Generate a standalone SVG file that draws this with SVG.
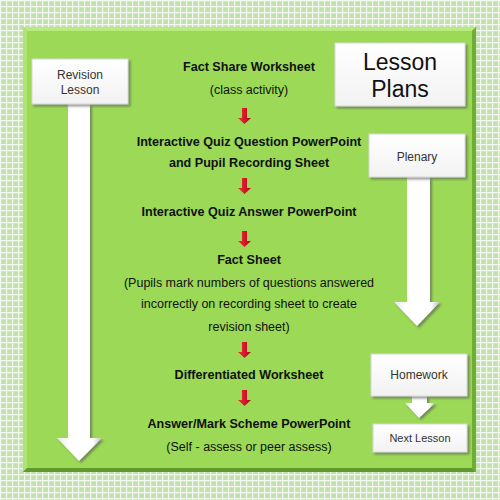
<svg xmlns="http://www.w3.org/2000/svg" width="500" height="500" viewBox="0 0 500 500">
<defs>
<pattern id="grid" width="6" height="6" patternUnits="userSpaceOnUse">
<rect width="6" height="6" fill="#c4e0b0"/>
<path d="M0 0.5H6M0.5 0V6" stroke="#f4faef" stroke-width="1.3" fill="none"/>
</pattern>
<linearGradient id="boxg" x1="0" y1="0" x2="0" y2="1">
<stop offset="0" stop-color="#ffffff"/>
<stop offset="1" stop-color="#f2f2f2"/>
</linearGradient>
<linearGradient id="shaft" x1="0" y1="0" x2="1" y2="0">
<stop offset="0" stop-color="#e6e6e6"/>
<stop offset="0.25" stop-color="#ffffff"/>
<stop offset="0.8" stop-color="#ffffff"/>
<stop offset="1" stop-color="#bdbdbd"/>
</linearGradient>
<linearGradient id="red" x1="0" y1="0" x2="1" y2="0">
<stop offset="0" stop-color="#f2303c"/>
<stop offset="1" stop-color="#b80018"/>
</linearGradient>
<filter id="sh" x="-10%" y="-10%" width="130%" height="130%">
<feDropShadow dx="2" dy="2" stdDeviation="1" flood-color="#555" flood-opacity="0.6"/>
</filter>
</defs>
<style>
.t{font-family:"Liberation Sans",Arial,sans-serif;fill:#111;text-anchor:middle}
.b{font-weight:bold;font-size:12.6px}
.r{font-size:12.5px}
.lbl{font-family:"Liberation Sans",Arial,sans-serif;fill:#333;text-anchor:middle;font-size:12px}
.box{fill:url(#boxg);stroke:#d8d8d8;stroke-width:1;filter:url(#sh)}
.warrow{fill:url(#shaft);filter:url(#sh)}
.rarrow{fill:url(#red)}
</style>
<rect width="500" height="500" fill="url(#grid)"/>
<g id="panel">
<rect x="23" y="27" width="453" height="445" fill="#9bd956"/>
<polygon points="23,27 476,27 472,31 27,31" fill="#b8ea80"/>
<polygon points="23,27 27,31 27,468 23,472" fill="#b0e472"/>
<polygon points="476,27 476,472 472,468 472,31" fill="#6fae35"/>
<polygon points="23,472 476,472 472,468 27,468" fill="#5e9a2c"/>
</g>
<g id="connectors">
<polygon class="warrow" points="68,104 90,104 90,438 102,438 79,461 57,438 68,438"/>
<polygon class="warrow" points="407,177 430,177 430,302 440,302 417,326 394,302 407,302"/>
<polygon class="warrow" points="412,396 427,396 427,403 435,403 419,418 405,403 412,403"/>
<polygon class="rarrow" points="242,108 247,108 247,118 251,118 244.5,124 238,118 242,118"/>
<polygon class="rarrow" points="242,178 247,178 247,188 251,188 244.5,194 238,188 242,188"/>
<polygon class="rarrow" points="242,231 247,231 247,241 251,241 244.5,247 238,241 242,241"/>
<polygon class="rarrow" points="242,342 247,342 247,352 251,352 244.5,358 238,352 242,352"/>
<polygon class="rarrow" points="242,390 247,390 247,400 251,400 244.5,406 238,400 242,400"/>
</g>
<g id="revision">
<rect class="box" x="32" y="59" width="96" height="45"/>
<text class="lbl" x="80" y="79">Revision</text>
<text class="lbl" x="80" y="94">Lesson</text>
</g>
<g id="lessonplans">
<rect class="box" x="335" y="43" width="130" height="63"/>
<text class="lbl" x="400" y="70" style="font-size:23px;fill:#111">Lesson</text>
<text class="lbl" x="400" y="97" style="font-size:23px;fill:#111">Plans</text>
</g>
<g id="plenary">
<rect class="box" x="369" y="134" width="96" height="43"/>
<text class="lbl" x="417" y="161">Plenary</text>
</g>
<g id="homework">
<rect class="box" x="371" y="354" width="96" height="42"/>
<text class="lbl" x="419" y="379">Homework</text>
</g>
<g id="nextlesson">
<rect class="box" x="373" y="424" width="94" height="28"/>
<text class="lbl" x="420" y="442" style="font-size:11px">Next Lesson</text>
</g>
<g id="steps">
<text class="t b" x="249" y="71">Fact Share Worksheet</text>
<text class="t r" x="249" y="94">(class activity)</text>
<text class="t b" x="249" y="146">Interactive Quiz Question PowerPoint</text>
<text class="t b" x="249" y="167">and Pupil Recording Sheet</text>
<text class="t b" x="249" y="216">Interactive Quiz Answer PowerPoint</text>
<text class="t b" x="249" y="264">Fact Sheet</text>
<text class="t r" x="249" y="287">(Pupils mark numbers of questions answered</text>
<text class="t r" x="249" y="308">incorrectly on recording sheet to create</text>
<text class="t r" x="249" y="331">revision sheet)</text>
<text class="t b" x="249" y="379">Differentiated Worksheet</text>
<text class="t b" x="249" y="428">Answer/Mark Scheme PowerPoint</text>
<text class="t r" x="249" y="451">(Self - assess or peer assess)</text>
</g>
</svg>
